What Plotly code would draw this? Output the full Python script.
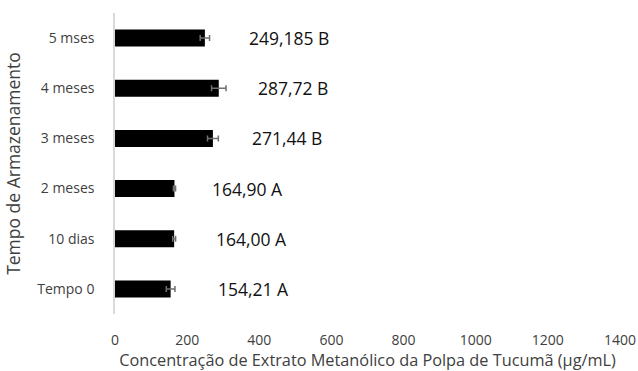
import plotly.graph_objects as go

categories = ["Tempo 0", "10 dias", "2 meses", "3 meses", "4 meses", "5 mses"]
values = [154.21, 164.00, 164.90, 271.44, 287.72, 249.185]
errors = [12, 4, 3, 15, 20, 13]
labels = ["154,21 A", "164,00 A", "164,90 A", "271,44 B", "287,72 B", "249,185 B"]
label_shift = [45, 40, 36, 37, 37, 42]
x_ticks = [0, 200, 400, 600, 800, 1000, 1200, 1400]

FONT = "Open Sans"

fig = go.Figure()
fig.add_trace(go.Bar(
    y=categories, x=values, orientation="h",
    marker=dict(color="black", line=dict(width=0)),
    error_x=dict(type="data", array=errors, color="#6f6f6f", thickness=1.5, width=3),
    width=0.34,
))

for c, v, t, s in zip(categories, values, labels, label_shift):
    fig.add_annotation(x=v, y=c, text=t, showarrow=False, xanchor="left",
                       xshift=s, font=dict(family=FONT, size=17.5, color="#111111"))

fig.update_layout(
    width=638, height=371,
    margin=dict(l=115, r=18, t=13, b=57),
    plot_bgcolor="white", paper_bgcolor="white",
    showlegend=False,
    font=dict(family=FONT, color="#404040"),
    xaxis=dict(range=[0, 1400], tickvals=x_ticks, showgrid=False, zeroline=False,
               showline=False, ticks="", tickfont=dict(size=14, color="#404040"),
               ticklabelstandoff=16, automargin=False,
               title=dict(text="Concentração de Extrato Metanólico da Polpa de Tucumã (µg/mL)",
                          font=dict(size=16.3, color="#404040"), standoff=8)),
    yaxis=dict(categoryorder="array", categoryarray=categories, range=[-0.5, 5.5],
               showgrid=False, zeroline=False, showline=True, linecolor="#d9d9d9",
               linewidth=1.5, ticks="", tickfont=dict(size=14, color="#404040"),
               ticklabelstandoff=16, automargin=False,
               title=dict(text="Tempo de Armazenamento", font=dict(size=17.5, color="#404040"),
                          standoff=12)),
)

fig.write_html("out.html")
